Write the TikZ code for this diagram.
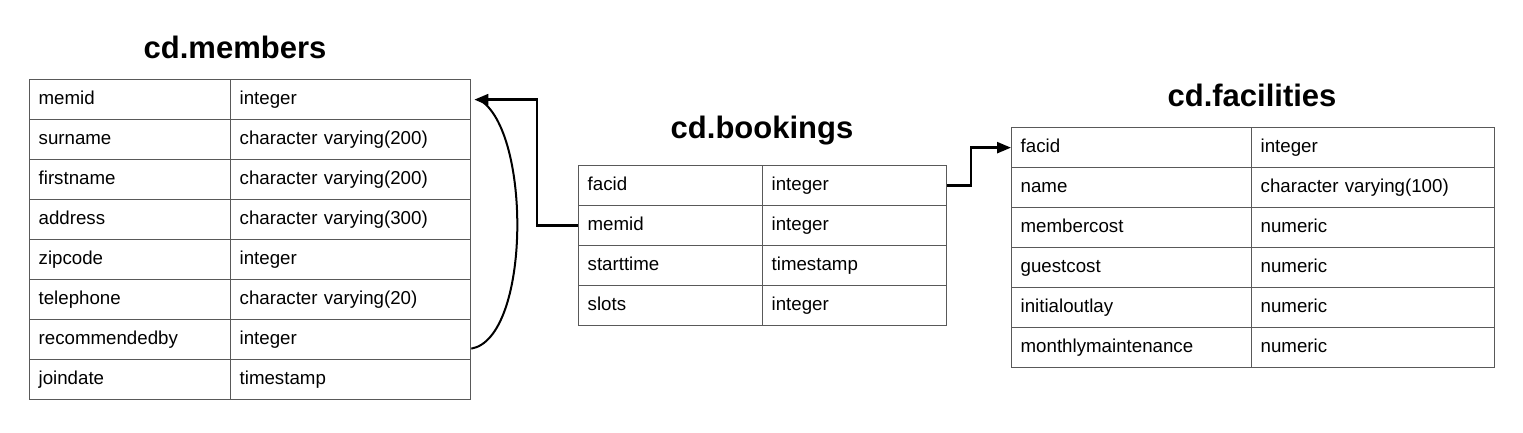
\documentclass[tikz,border=0pt]{standalone}
\usepackage{fontspec}
\setmainfont{Liberation Sans}
\usetikzlibrary{arrows.meta}
\tikzset{
  cell/.style={draw=black!65, line width=1.3pt, anchor=north west, minimum height=40pt,
    inner xsep=9pt, inner ysep=0pt, text height=13pt, text depth=4pt, align=left,
    font=\fontsize{18.7}{20}\selectfont},
  tabletitle/.style={font=\fontsize{31}{34}\selectfont\bfseries},
  link/.style={line width=2.4pt, -{Triangle[length=14pt,width=11pt]}},
}
\begin{document}
\begin{tikzpicture}[x=1pt,y=-1pt]
  \useasboundingbox (0,0) rectangle (1523,433);
  % cd.members
  \node[tabletitle] (mem-title) at (235,47) {cd.members};
  \foreach \f/\t [count=\i] in {memid/integer, surname/character varying(200),
      firstname/character varying(200), address/character varying(300),
      zipcode/integer, telephone/character varying(20),
      recommendedby/integer, joindate/timestamp} {
    \pgfmathsetmacro{\ry}{79+40*(\i-1)}
    \node[cell, text width=183pt] (mem-\i-name) at (29,\ry) {\f};
    \node[cell, text width=222pt] (mem-\i-type) at (230,\ry) {\t};
  }
  % cd.bookings
  \node[tabletitle] (book-title) at (762,131) {cd.bookings};
  \foreach \f/\t [count=\i] in {facid/integer, memid/integer,
      starttime/timestamp, slots/integer} {
    \pgfmathsetmacro{\ry}{165+40*(\i-1)}
    \node[cell, text width=166pt] (book-\i-name) at (578,\ry) {\f};
    \node[cell, text width=166pt] (book-\i-type) at (762,\ry) {\t};
  }
  % cd.facilities
  \node[tabletitle] (fac-title) at (1252,95) {cd.facilities};
  \foreach \f/\t [count=\i] in {facid/integer, name/character varying(100),
      membercost/numeric, guestcost/numeric, initialoutlay/numeric,
      monthlymaintenance/numeric} {
    \pgfmathsetmacro{\ry}{127+40*(\i-1)}
    \node[cell, text width=222pt] (fac-\i-name) at (1011,\ry) {\f};
    \node[cell, text width=225pt] (fac-\i-type) at (1251,\ry) {\t};
  }
  % foreign keys
  \coordinate (bend-mem) at (537,0);
  \coordinate (bend-fac) at (971,0);
  \draw[link] (book-2-name.west) -- (book-2-name.west -| bend-mem) |- ([xshift=3pt]mem-1-type.east);
  \draw[line width=2pt] ([yshift=-9pt]mem-7-type.east) to[out=10, in=-30, looseness=0.62] ([xshift=8pt]mem-1-type.east);
  \draw[link] (book-1-type.east) -- (book-1-type.east -| bend-fac) |- (fac-1-name.west);
\end{tikzpicture}
\end{document}
